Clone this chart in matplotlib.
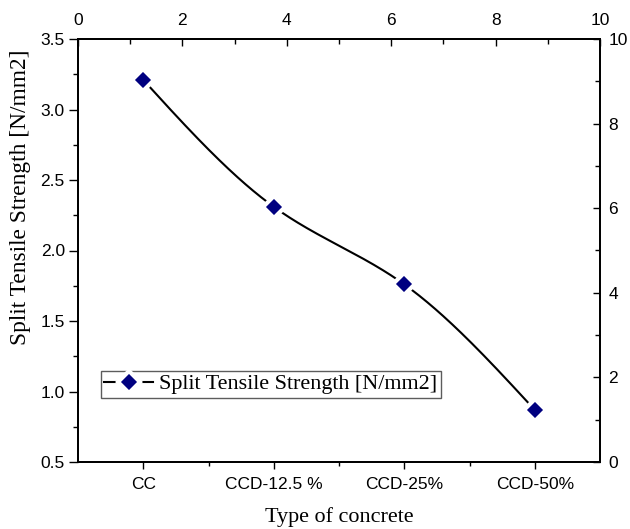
import numpy as np
import matplotlib
matplotlib.use("Agg")
import matplotlib.pyplot as plt
from matplotlib.ticker import MultipleLocator, FixedLocator
from matplotlib.lines import Line2D

categories = ["CC", "CCD-12.5 %", "CCD-25%", "CCD-50%"]
strength = [3.21, 2.31, 1.76, 0.87]
series_name = "Split Tensile Strength [N/mm2]"

xpos = np.array([1.25, 3.75, 6.25, 8.75])
y = np.array(strength)


def natural_spline(x, y, n=300):
    k = len(x)
    h = np.diff(x)
    A = np.zeros((k, k))
    b = np.zeros(k)
    A[0, 0] = A[-1, -1] = 1
    for i in range(1, k - 1):
        A[i, i - 1] = h[i - 1]
        A[i, i] = 2 * (h[i - 1] + h[i])
        A[i, i + 1] = h[i]
        b[i] = 6 * ((y[i + 1] - y[i]) / h[i] - (y[i] - y[i - 1]) / h[i - 1])
    M = np.linalg.solve(A, b)
    xs = np.linspace(x[0], x[-1], n)
    ys = np.empty_like(xs)
    for j, xv in enumerate(xs):
        i = min(np.searchsorted(x, xv, side="right") - 1, k - 2)
        t0 = x[i + 1] - xv
        t1 = xv - x[i]
        ys[j] = (M[i] * t0**3 + M[i + 1] * t1**3) / (6 * h[i]) + \
            (y[i] / h[i] - M[i] * h[i] / 6) * t0 + \
            (y[i + 1] / h[i] - M[i + 1] * h[i] / 6) * t1
    return xs, ys


sans = ["Liberation Sans", "DejaVu Sans"]
serif = ["Liberation Serif", "DejaVu Serif"]
TS = 12.5
LS = 15.9
NAVY = "#000080"

fig = plt.figure(figsize=(6.3, 5.29), dpi=100)
ax = fig.add_axes([78 / 630, (529 - 462) / 529, 522 / 630, 423 / 529])

xs, ys = natural_spline(xpos, y)
ax.plot(xs, ys, color="black", lw=1.5, zorder=2)
ax.plot(xpos, y, ls="none", marker="D", ms=11.5, mfc=NAVY, mec="white", mew=3, zorder=4)

ax.set_xlim(0, 10)
ax.set_ylim(0.5, 3.5)
ax.xaxis.set_major_locator(FixedLocator(xpos))
ax.set_xticklabels(categories, fontfamily=sans, fontsize=TS)
ax.xaxis.set_minor_locator(FixedLocator([2.5, 5.0, 7.5]))
ax.yaxis.set_major_locator(MultipleLocator(0.5))
ax.yaxis.set_minor_locator(MultipleLocator(0.25))
ax.tick_params(axis="x", which="major", direction="out", length=5, width=1, labelsize=TS, pad=6)
ax.tick_params(axis="x", which="minor", direction="out", length=2.6, width=1)
ax.tick_params(axis="y", which="major", direction="out", length=6.5, width=1, labelsize=TS, pad=3)
ax.tick_params(axis="y", which="minor", direction="out", length=3.4, width=1)
for lab in ax.get_yticklabels():
    lab.set_fontfamily(sans)
for sp in ax.spines.values():
    sp.set_linewidth(1.2)

ax.set_xlabel("Type of concrete", fontfamily=serif, fontsize=LS, labelpad=11)
ax.set_ylabel(series_name, fontfamily=serif, fontsize=16.8)
ax.yaxis.set_label_coords(-0.09, 0.625)

top = ax.twiny()
top.set_xlim(0, 10)
top.xaxis.set_major_locator(MultipleLocator(2))
top.xaxis.set_minor_locator(MultipleLocator(1))
top.tick_params(axis="x", which="major", direction="in", length=5, width=1, labelsize=TS, pad=8)
top.tick_params(axis="x", which="minor", direction="in", length=3.4, width=1)
for lab in top.get_xticklabels():
    lab.set_fontfamily(sans)

right = ax.twinx()
right.set_ylim(0, 10)
right.yaxis.set_major_locator(MultipleLocator(2))
right.yaxis.set_minor_locator(MultipleLocator(1))
right.tick_params(axis="y", which="major", direction="in", length=5, width=1, labelsize=TS, pad=6)
right.tick_params(axis="y", which="minor", direction="in", length=3.4, width=1)
for lab in right.get_yticklabels():
    lab.set_fontfamily(sans)
for a in (top, right):
    for sp in a.spines.values():
        sp.set_linewidth(1.2)

proxy = Line2D([], [], color="black", lw=1.5, marker="D", ms=11.5, mfc=NAVY,
               mec="white", mew=3)
leg = right.legend([proxy], [series_name],
                   loc="lower left", bbox_to_anchor=(0.044, 0.152), borderaxespad=0,
                   prop={"family": serif, "size": LS}, handlelength=2.2, numpoints=1,
                   fancybox=False, frameon=True, borderpad=0.15, handletextpad=0.3)
leg.get_frame().set_edgecolor("#333333")
leg.get_frame().set_linewidth(1.0)

fig.savefig("out.png", dpi=100)
